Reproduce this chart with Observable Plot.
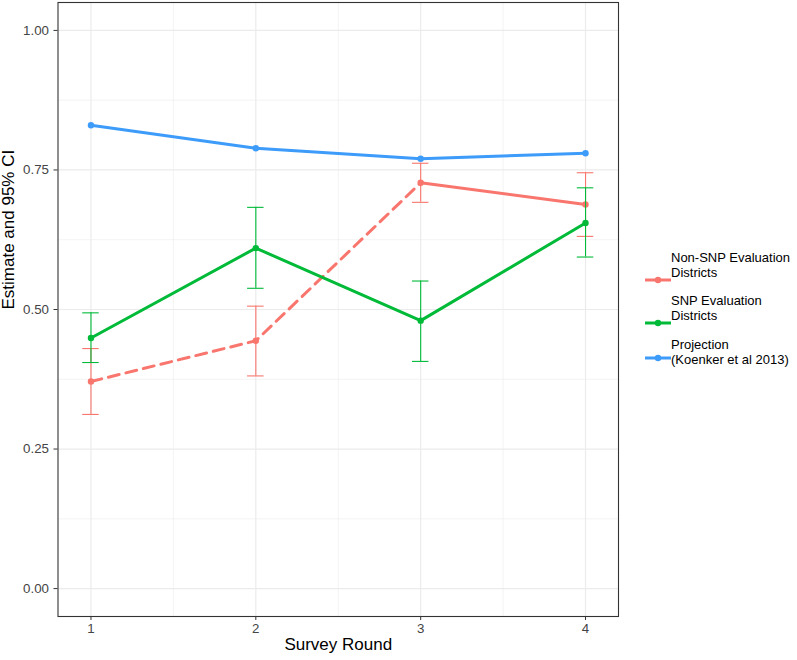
<!DOCTYPE html>
<html>
<head>
<meta charset="utf-8">
<script src="https://cdn.jsdelivr.net/npm/d3@7"></script>
<script src="https://cdn.jsdelivr.net/npm/@observablehq/plot@0.6"></script>
<style>
  html, body { margin: 0; padding: 0; background: #fff; }
  #wrap { position: relative; width: 797px; height: 660px; font-family: "Liberation Sans", Arial, sans-serif; }
  #legend { position: absolute; left: 0; top: 0; width: 797px; height: 660px; pointer-events: none; }
  .lg-text { position: absolute; left: 671px; font-size: 13px; line-height: 14.5px; color: #000; white-space: nowrap; }
  .lg-key { position: absolute; left: 645px; width: 26px; height: 8px; }
</style>
</head>
<body>
<div id="wrap"><div id="chart"></div><div id="legend"></div></div>
<script>
// ---- data ----
const rounds = [1, 2, 3, 4];
const nonSnpEst = [0.371, 0.444, 0.727, 0.688];
const nonSnpLo  = [0.312, 0.381, 0.692, 0.631];
const nonSnpHi  = [0.430, 0.506, 0.762, 0.745];
const snpEst = [0.449, 0.610, 0.480, 0.655];
const snpLo  = [0.405, 0.538, 0.407, 0.594];
const snpHi  = [0.494, 0.683, 0.551, 0.718];
const projectionEst = [0.830, 0.789, 0.770, 0.780];
const seriesNames = ["Non-SNP Evaluation\nDistricts", "SNP Evaluation\nDistricts", "Projection\n(Koenker et al 2013)"];
const seriesColors = ["#F8766D", "#00BA38", "#3D9BFA"];
const yTicks = [0, 0.25, 0.5, 0.75, 1];
const yMinor = [0.125, 0.375, 0.625, 0.875];
const xMinor = [1.5, 2.5, 3.5];
const xTitle = "Survey Round";
const yTitle = "Estimate and 95% CI";

// ---- tables ----
const nonSnp = rounds.map((r, i) => ({round: r, est: nonSnpEst[i], lo: nonSnpLo[i], hi: nonSnpHi[i]}));
const snp = rounds.map((r, i) => ({round: r, est: snpEst[i], lo: snpLo[i], hi: snpHi[i]}));
const proj = rounds.map((r, i) => ({round: r, est: projectionEst[i]}));

const capHalf = 0.05;
function errorbars(data, color) {
  return [
    Plot.ruleX(data, {x: "round", y1: "lo", y2: "hi", stroke: color, strokeWidth: 1.1}),
    Plot.ruleY(data, {y: "lo", x1: d => d.round - capHalf, x2: d => d.round + capHalf, stroke: color, strokeWidth: 1.1}),
    Plot.ruleY(data, {y: "hi", x1: d => d.round - capHalf, x2: d => d.round + capHalf, stroke: color, strokeWidth: 1.1})
  ];
}

const [cRed, cGreen, cBlue] = seriesColors;

const chart = Plot.plot({
  width: 797,
  height: 660,
  marginLeft: 57.5,
  marginRight: 179,
  marginTop: 2,
  marginBottom: 44,
  style: {fontFamily: "'Liberation Sans', Arial, sans-serif", background: "#fff"},
  x: {domain: [0.8, 4.2]},
  y: {domain: [-0.05, 1.05]},
  marks: [
    Plot.gridX(xMinor, {stroke: "#ebebeb", strokeOpacity: 1, strokeWidth: 0.6}),
    Plot.gridY(yMinor, {stroke: "#ebebeb", strokeOpacity: 1, strokeWidth: 0.6}),
    Plot.gridX(rounds, {stroke: "#ebebeb", strokeOpacity: 1, strokeWidth: 1.2}),
    Plot.gridY(yTicks, {stroke: "#ebebeb", strokeOpacity: 1, strokeWidth: 1.2}),
    Plot.axisX(rounds, {tickSize: 4, tickPadding: 3, fontSize: 13.3, stroke: "#333", fill: "#444", label: null, tickFormat: d3.format("d")}),
    Plot.axisY(yTicks, {tickSize: 4, tickPadding: 5, fontSize: 13.3, stroke: "#333", fill: "#444", label: null, tickFormat: d3.format(".2f")}),
    Plot.text([xTitle], {frameAnchor: "bottom", dy: 33, fontSize: 17, fill: "#000"}),
    Plot.text([yTitle], {frameAnchor: "left", dx: -49, rotate: -90, fontSize: 17, fill: "#000"}),
    // lines
    Plot.line(nonSnp.filter(d => d.round <= 3), {x: "round", y: "est", stroke: cRed, strokeWidth: 3, strokeDasharray: "11,7"}),
    Plot.line(nonSnp.filter(d => d.round >= 3), {x: "round", y: "est", stroke: cRed, strokeWidth: 3}),
    Plot.line(snp, {x: "round", y: "est", stroke: cGreen, strokeWidth: 3}),
    Plot.line(proj, {x: "round", y: "est", stroke: cBlue, strokeWidth: 3}),
    // points
    Plot.dot(nonSnp, {x: "round", y: "est", fill: cRed, r: 3.2}),
    Plot.dot(snp, {x: "round", y: "est", fill: cGreen, r: 3.2}),
    Plot.dot(proj, {x: "round", y: "est", fill: cBlue, r: 3.2}),
    // error bars
    ...errorbars(nonSnp, cRed),
    ...errorbars(snp, cGreen),
    Plot.frame({stroke: "#333", strokeWidth: 1.1})
  ]
});
document.getElementById("chart").appendChild(chart);

// ---- legend (HTML) ----
const legend = document.getElementById("legend");
const legendTops = [251, 294, 338];
const keyCenters = [274, 317, 352];
seriesNames.forEach((name, i) => {
  const t = document.createElement("div");
  t.className = "lg-text";
  t.style.top = legendTops[i] + "px";
  t.innerHTML = name.split("\n").join("<br>");
  legend.appendChild(t);
  const k = document.createElement("div");
  k.className = "lg-key";
  k.style.top = (keyCenters[i] - 4) + "px";
  k.innerHTML = `<svg width="26" height="8"><line x1="0" x2="26" y1="4" y2="4" stroke="${seriesColors[i]}" stroke-width="3"/><circle cx="13" cy="4" r="3.2" fill="${seriesColors[i]}"/></svg>`;
  legend.appendChild(k);
});
</script>
</body>
</html>
